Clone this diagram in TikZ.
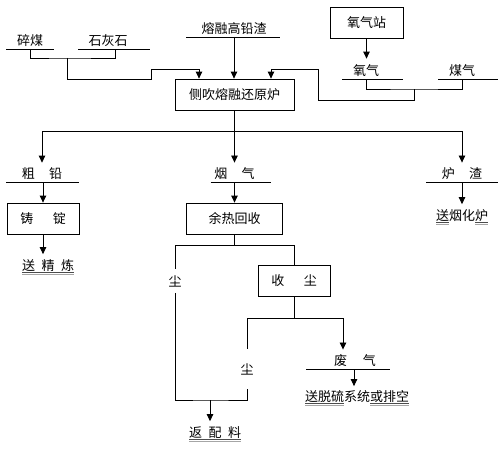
\documentclass[tikz,border=0pt]{standalone}
\usepackage{fontspec}
\setmainfont{Noto Sans CJK SC}
\usepackage{xcolor}
\usetikzlibrary{arrows.meta,calc}
\newcommand{\duline}[1]{\setbox0=\hbox{#1}\rlap{\color{black!70}\rule[-2.6pt]{\wd0}{0.7pt}}\rlap{\color{black!35}\rule[-4.4pt]{\wd0}{0.7pt}}\box0}

\begin{document}
\begin{tikzpicture}[x=1pt, y=-1pt,
    every node/.style={font=\fontsize{13}{15}\selectfont},
    box/.style={rectangle, draw, line width=0.8pt, minimum height=31pt, inner sep=0pt, align=center},
    lbl/.style={inner sep=2pt, anchor=south},
    txt/.style={inner sep=2pt},
    ln/.style={line width=0.8pt},
    arr/.style={ln, -{Triangle[length=7pt, width=6.5pt]}}
]
    \useasboundingbox (0,0) rectangle (500,452);

    % Feeds
    \node[lbl] (coal) at (30,49) {碎煤};
    \node[lbl] (lime) at (108,49) {石灰石};
    \node[lbl] (slag) at (234,37) {熔融高铅渣};
    \node[box, minimum width=73pt] (o2st) at (366.5,22.5) {氧气站};
    \node[lbl] (oxy) at (366,79) {氧气};
    \node[lbl] (cgas) at (462,79) {煤气};
    \node[box, minimum width=119pt] (furnace) at (234.5,94.5) {侧吹熔融还原炉};

    \draw[ln] ([xshift=-24pt]coal.south) -- ([xshift=24pt]coal.south);
    \draw[ln] ([xshift=-30pt]lime.south) -- ([xshift=42pt]lime.south);
    \draw[ln] ([xshift=-48pt]slag.south) -- ([xshift=46pt]slag.south);
    \draw[ln] ([xshift=-24pt]oxy.south) -- ([xshift=37pt]oxy.south);
    \draw[ln] ([xshift=-24pt]cgas.south) -- ([xshift=36pt]cgas.south);

    % Feed lines
    \coordinate (j1) at (67,58);
    \coordinate (j2) at (414,89);
    \draw[ln] (coal.south) |- (j1) -| ([xshift=7pt]lime.south);
    \draw[arr] (j1) |- (151,79) -- (151,69) -| ([xshift=-35.5pt]furnace.north);
    \draw[arr] (slag.south) -- (slag.south |- furnace.north);
    \draw[arr, shorten >=4pt] (o2st.south) -- (o2st.south |- oxy.north);
    \draw[ln] (oxy.south) |- (j2) -| (cgas.south);
    \draw[arr] (j2) |- (318,100) -- (318,69) -| ([xshift=36.5pt]furnace.north);

    % Products
    \coordinate (split) at (234.5,131);
    \node[lbl] (lead) at (42,182) {粗\hspace{1.1em}铅};
    \node[lbl] (flue) at (234.5,182) {烟\hspace{1.1em}气};
    \node[lbl] (fslag) at (462,182) {炉\hspace{1.1em}渣};
    \draw[ln] ([xshift=-36pt]lead.south) -- ([xshift=37pt]lead.south);
    \draw[ln] ([xshift=-24pt]flue.south) -- ([xshift=36pt]flue.south);
    \draw[ln] ([xshift=-36pt]fslag.south) -- ([xshift=36pt]fslag.south);
    \draw[ln] (furnace.south) -- (split);
    \draw[arr, shorten >=3pt] (split) -| (lead.north);
    \draw[arr, shorten >=3pt] (split) -- (flue.north);
    \draw[arr, shorten >=3pt] (split) -| (fslag.north);

    % Crude lead
    \node[box, minimum width=72pt] (cast) at (43,218.5) {铸\hspace{1.5em}锭};
    \node[txt] (refine) at (48,267) {\duline{送\hspace{.5em}精\hspace{.5em}炼}};
    \draw[arr] (cast.north |- lead.south) -- (cast.north);
    \draw[arr, shorten >=3pt] (cast.south) -- (cast.south |- refine.north);

    % Slag
    \node[txt] (fume) at (462,217) {\duline{送}烟化\duline{炉}};
    \draw[arr, shorten >=3pt] (fslag.south) -- (fslag.south |- fume.north);

    % Flue gas
    \node[box, minimum width=96pt] (heat) at (234.5,218.5) {余热回收};
    \draw[arr] (flue.south) -- (heat.north);
    \coordinate (split2) at (234.5,245);
    \node[txt, inner ysep=6pt] (dust1) at (175,281) {尘};
    \node[box, minimum width=72pt] (collect) at (294,280.5) {收\hspace{1.5em}尘};
    \draw[ln] (heat.south) -- (split2);
    \draw[ln] (split2) -| (dust1.north);
    \draw[ln] (split2) -| (collect.north);

    \coordinate (merge) at (210,400);
    \coordinate (split3) at (294,318);
    \node[txt, inner ysep=14pt] (dust2) at (247,369) {尘};
    \node[lbl] (offgas) at (355,369) {废\hspace{1.2em}气};
    \draw[ln] ([xshift=-49pt]offgas.south) -- ([xshift=35pt]offgas.south);
    \draw[ln] (dust1.south) |- (merge) -| (dust2.south);
    \draw[ln] (collect.south) -- (split3) -| (dust2.north);
    \draw[arr, shorten >=3pt] (split3) -| ([xshift=-12pt]offgas.north);

    \node[txt] (desulf) at (357,398) {\duline{送脱硫}系统\duline{或排空}};
    \node[txt] (ret) at (215,434) {\duline{返\hspace{.5em}配\hspace{.5em}料}};
    \draw[arr, shorten >=2pt] ([xshift=-1pt]offgas.south) -- ([xshift=-1pt]offgas.south |- desulf.north);
    \draw[arr, shorten >=3pt] (merge) -- (merge |- ret.north);

\end{tikzpicture}
\end{document}
